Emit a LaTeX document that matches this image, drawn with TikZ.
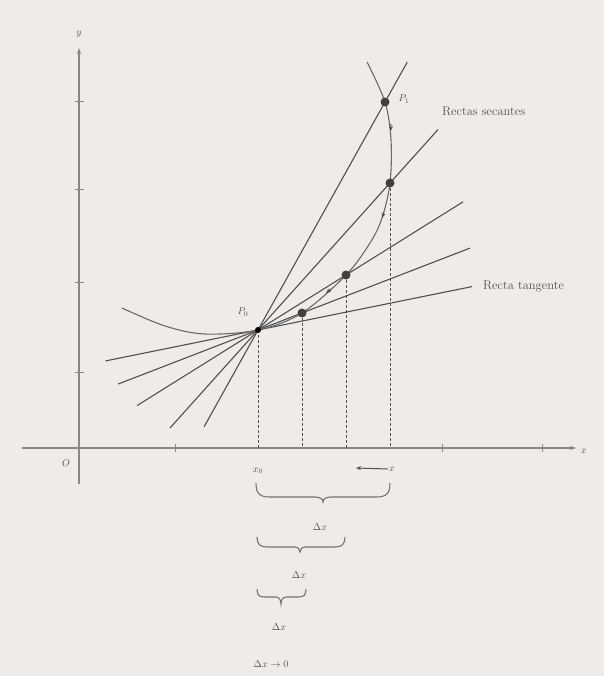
\documentclass[tikz,border=0pt]{standalone}
\usetikzlibrary{calc,arrows.meta}
\definecolor{bg}{RGB}{239,235,232}
\definecolor{ink}{RGB}{80,80,80}
\definecolor{axiscol}{RGB}{135,135,135}
\begin{document}
\begin{tikzpicture}[x=1pt,y=-1pt,
  axisline/.style={draw=axiscol,line width=1.4pt,-{Stealth[length=6pt,width=4pt]}},
  tickmark/.style={draw=axiscol,line width=1pt},
  secant/.style={draw=ink,line width=1.1pt},
  curveline/.style={draw=ink!85,line width=1.1pt},
  guide/.style={draw=ink,line width=1pt,dash pattern=on 3pt off 2pt},
  bigdot/.style={circle,fill=ink!80!black,inner sep=0pt,minimum size=9pt},
  pdot/.style={circle,fill=black,inner sep=0pt,minimum size=6pt},
  lbl/.style={text=ink,font=\fontsize{10}{12}\selectfont,inner sep=1pt},
  biglbl/.style={text=ink,font=\fontsize{12.5}{14}\selectfont,inner sep=1pt,anchor=west},
  bracestyle/.style={draw=ink!80,line width=1.1pt},
  tipstyle/.style={draw=ink,line width=1pt,-{Stealth[length=5pt,width=4pt]}},
]
\fill[bg] (0,0) rectangle (604,676);
\useasboundingbox (0,0) rectangle (604,676);

% axes
\coordinate (O) at (79,448);
\coordinate (xstart) at (22,448);
\coordinate (xend) at (576,448);
\coordinate (ystart) at (79,484);
\coordinate (yend) at (79,48);
\draw[axisline] (xstart) -- (xend);
\draw[axisline] (ystart) -- (yend);
\foreach \t in {175,442,542} \draw[tickmark] (\t,444) -- (\t,452);
\foreach \t in {102,190,282,372} \draw[tickmark] (75,\t) -- (84,\t);
\node[lbl] (ylab) at (79,34) {$y$};
\node[lbl] (xlab) at (584,451) {$x$};
\node[lbl] (Olab) at (66,463) {$O$};

% points
\coordinate (cP0) at (258,330);
\coordinate (cA) at (302,313);
\coordinate (cB) at (346,275);
\coordinate (cC) at (390,183);
\coordinate (cP1) at (385,102);
\coordinate (cT) at (470,287);

% tangent and secant lines
\draw[secant] ($(cP0)!-0.72!(cT)$) -- ($(cP0)!1.01!(cT)$);
\draw[secant] ($(cP0)!-3.18!(cA)$) -- ($(cP0)!4.82!(cA)$);
\draw[secant] ($(cP0)!-1.375!(cB)$) -- ($(cP0)!2.33!(cB)$);
\draw[secant] ($(cP0)!-0.667!(cC)$) -- ($(cP0)!1.364!(cC)$);
\draw[secant] ($(cP0)!-0.425!(cP1)$) -- ($(cP0)!1.175!(cP1)$);

% curve
\draw[curveline] plot[smooth,tension=0.55] coordinates {(122,308) (165,326) (205,334) (258,330) (302,313) (346,275) (370,243) (382,218) (390,183) (391,140) (385,102) (367,62)};
\draw[tipstyle] (391,124) -- (390.8,131);
\draw[tipstyle] (384,212) -- (382,218);
\draw[tipstyle] (331,289) -- (326,293);

% dashed guides
\draw[guide] (cP0) -- (cP0 |- O);
\draw[guide] (cA) -- (cA |- O);
\draw[guide] (cB) -- (cB |- O);
\draw[guide] (cC) -- (cC |- O);

% dots
\node[pdot] (P0) at (cP0) {};
\node[bigdot] (A) at (cA) {};
\node[bigdot] (B) at (cB) {};
\node[bigdot] (C) at (cC) {};
\node[bigdot] (P1) at (cP1) {};
\node[lbl] (P0lab) at (243,312) {$P_0$};
\node[lbl] (P1lab) at (404,99) {$P_1$};
\node[biglbl] (seclab) at (441,111) {Rectas secantes};
\node[biglbl] (tanlab) at (482,287) {Recta tangente};

% labels under axis
\node[lbl] (x0lab) at (258,471) {$x_0$};
\node[lbl] (xlb) at (392,469) {$x$};
\coordinate (xarr) at (356,468);
\draw[tipstyle] (xlb.west) -- (xarr);

% braces
\draw[bracestyle] (256,483) .. controls (256,494) and (260,497) .. (270,497) -- (315,497) .. controls (320,497) and (323,499) .. (323,502) .. controls (323,499) and (326,497) .. (331,497) -- (376,497) .. controls (386,497) and (390,494) .. (390,483);
\node[lbl] (d1) at (320,527) {$\Delta x$};
\draw[bracestyle] (257,537) .. controls (257,544) and (260,547) .. (267,547) -- (294,547) .. controls (298,547) and (300,549) .. (300,552) .. controls (300,549) and (302,547) .. (306,547) -- (335,547) .. controls (342,547) and (345,544) .. (345,537);
\node[lbl] (d2) at (299,575) {$\Delta x$};
\draw[bracestyle] (257,589) .. controls (257,595) and (259,597) .. (265,597) -- (276,597) .. controls (279,597) and (281,600) .. (281,604) .. controls (281,600) and (283,597) .. (286,597) -- (298,597) .. controls (304,597) and (306,595) .. (306,589);
\node[lbl] (d3) at (279,627) {$\Delta x$};
\node[lbl] (d4) at (271,664) {$\Delta x\to 0$};
\end{tikzpicture}
\end{document}
